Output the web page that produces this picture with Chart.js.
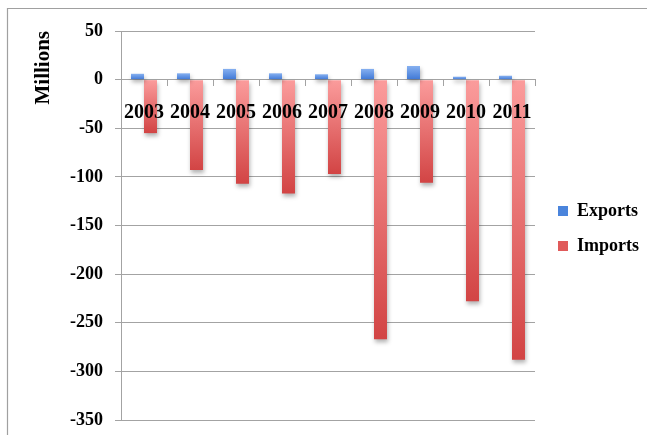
<!DOCTYPE html>
<html>
<head>
<meta charset="utf-8">
<script src="https://cdn.jsdelivr.net/npm/chart.js@4/dist/chart.umd.min.js"></script>
<style>
  html, body { margin: 0; padding: 0; background: #ffffff; }
  #wrap { position: relative; width: 647px; height: 435px; }
</style>
</head>
<body>
<div id="wrap"><canvas id="chart"></canvas></div>
<script>
// Trade figures by year, in millions
const years = ['2003', '2004', '2005', '2006', '2007', '2008', '2009', '2010', '2011'];
const exportsValues = [6, 6.5, 11, 6.5, 5.5, 11, 14, 3, 4];
const importsValues = [-55, -93, -107, -117, -97, -267, -106, -228, -288];
const yTicks = [50, 0, -50, -100, -150, -200, -250, -300, -350];

const SERIF = "'Liberation Serif', 'Times New Roman', serif";
const GRID = '#a3a3a3';

// Vertical gradient spanning each bar from the zero line to its value
function barGradient(light, dark) {
  return (ctx) => {
    if (ctx.type !== 'data') return dark;
    const chart = ctx.chart;
    const y = chart.scales && chart.scales.y;
    if (!y) return dark;
    const p0 = y.getPixelForValue(0);
    const p1 = y.getPixelForValue(ctx.raw);
    if (!isFinite(p0) || !isFinite(p1) || p0 === p1) return dark;
    const top = Math.min(p0, p1), bot = Math.max(p0, p1);
    const g = chart.ctx.createLinearGradient(0, top, 0, bot);
    g.addColorStop(0, light);
    g.addColorStop(1, dark);
    return g;
  };
}

// Thin frame around the whole figure
const framePlugin = {
  id: 'frame',
  beforeDraw(chart) {
    const c = chart.ctx;
    c.save();
    c.strokeStyle = '#a0a0a0';
    c.lineWidth = 1.2;
    c.beginPath();
    c.moveTo(7.5, chart.height + 2);
    c.lineTo(7.5, 8.5);
    c.lineTo(chart.width + 2, 8.5);
    c.stroke();
    c.restore();
  }
};

// Soft drop shadow under the bars
const shadowPlugin = {
  id: 'barShadow',
  beforeDatasetsDraw(chart) {
    const c = chart.ctx;
    c.save();
    c.shadowColor = 'rgba(0,0,0,0.3)';
    c.shadowBlur = 4;
    c.shadowOffsetX = 1;
    c.shadowOffsetY = 3;
  },
  afterDatasetsDraw(chart) {
    chart.ctx.restore();
  }
};

// Nudge the legend a little right and down from its fitted slot
const legendShift = {
  id: 'legendShift',
  afterLayout(chart) {
    const lg = chart.legend;
    if (lg) {
      lg.left += 6;
      lg.right += 6;
      lg.top += 3;
      lg.bottom += 3;
    }
  }
};

const legendColors = ['#4a84dc', '#e05a5a'];

new Chart(document.getElementById('chart'), {
  type: 'bar',
  data: {
    labels: years,
    datasets: [
      {
        label: 'Exports',
        data: exportsValues,
        backgroundColor: barGradient('#86b0f0', '#3f78d6')
      },
      {
        label: 'Imports',
        data: importsValues,
        backgroundColor: barGradient('#fb9c9c', '#d24444')
      }
    ]
  },
  plugins: [framePlugin, shadowPlugin, legendShift],
  options: {
    responsive: true,
    maintainAspectRatio: false,
    animation: false,
    datasets: {
      bar: { categoryPercentage: 0.565, barPercentage: 1.0 }
    },
    layout: { padding: { top: 31, bottom: 15, left: 0, right: 4 } },
    plugins: {
      tooltip: { enabled: false },
      legend: {
        position: 'right',
        align: 'center',
        labels: {
          color: '#000000',
          font: { family: SERIF, size: 18, weight: 'bold' },
          boxWidth: 10,
          boxHeight: 10,
          padding: 17,
          generateLabels(chart) {
            const items = Chart.defaults.plugins.legend.labels.generateLabels(chart);
            items.forEach((it, i) => {
              it.fillStyle = legendColors[i];
              it.strokeStyle = legendColors[i];
              it.lineWidth = 0;
            });
            return items;
          }
        }
      }
    },
    scales: {
      x: {
        position: { y: 0 },
        offset: true,
        afterFit(scale) {
          scale.height = 0;
        },
        grid: {
          display: true,
          drawOnChartArea: false,
          drawTicks: true,
          tickLength: 6,
          color: GRID,
          offset: true
        },
        border: { display: true, color: GRID },
        ticks: {
          z: 1,
          color: '#000000',
          font: { family: SERIF, size: 20, weight: 'bold' },
          padding: 15,
          maxRotation: 0,
          autoSkip: false
        }
      },
      y: {
        min: -350,
        max: 50,
        afterBuildTicks(scale) {
          scale.ticks = yTicks.map(v => ({ value: v }));
        },
        afterFit(scale) {
          scale.width = 121;
          scale.paddingTop = 0;
          scale.paddingBottom = 0;
        },
        grid: {
          color: GRID,
          lineWidth: 1,
          tickLength: 6
        },
        border: { display: true, color: GRID },
        ticks: {
          color: '#000000',
          font: { family: SERIF, size: 18, weight: 'bold' },
          padding: 12
        },
        title: {
          display: true,
          text: 'Millions',
          align: 'end',
          color: '#000000',
          font: { family: SERIF, size: 21, weight: 'bold' },
          padding: { top: 31, bottom: 0 }
        }
      }
    }
  }
});
</script>
</body>
</html>
